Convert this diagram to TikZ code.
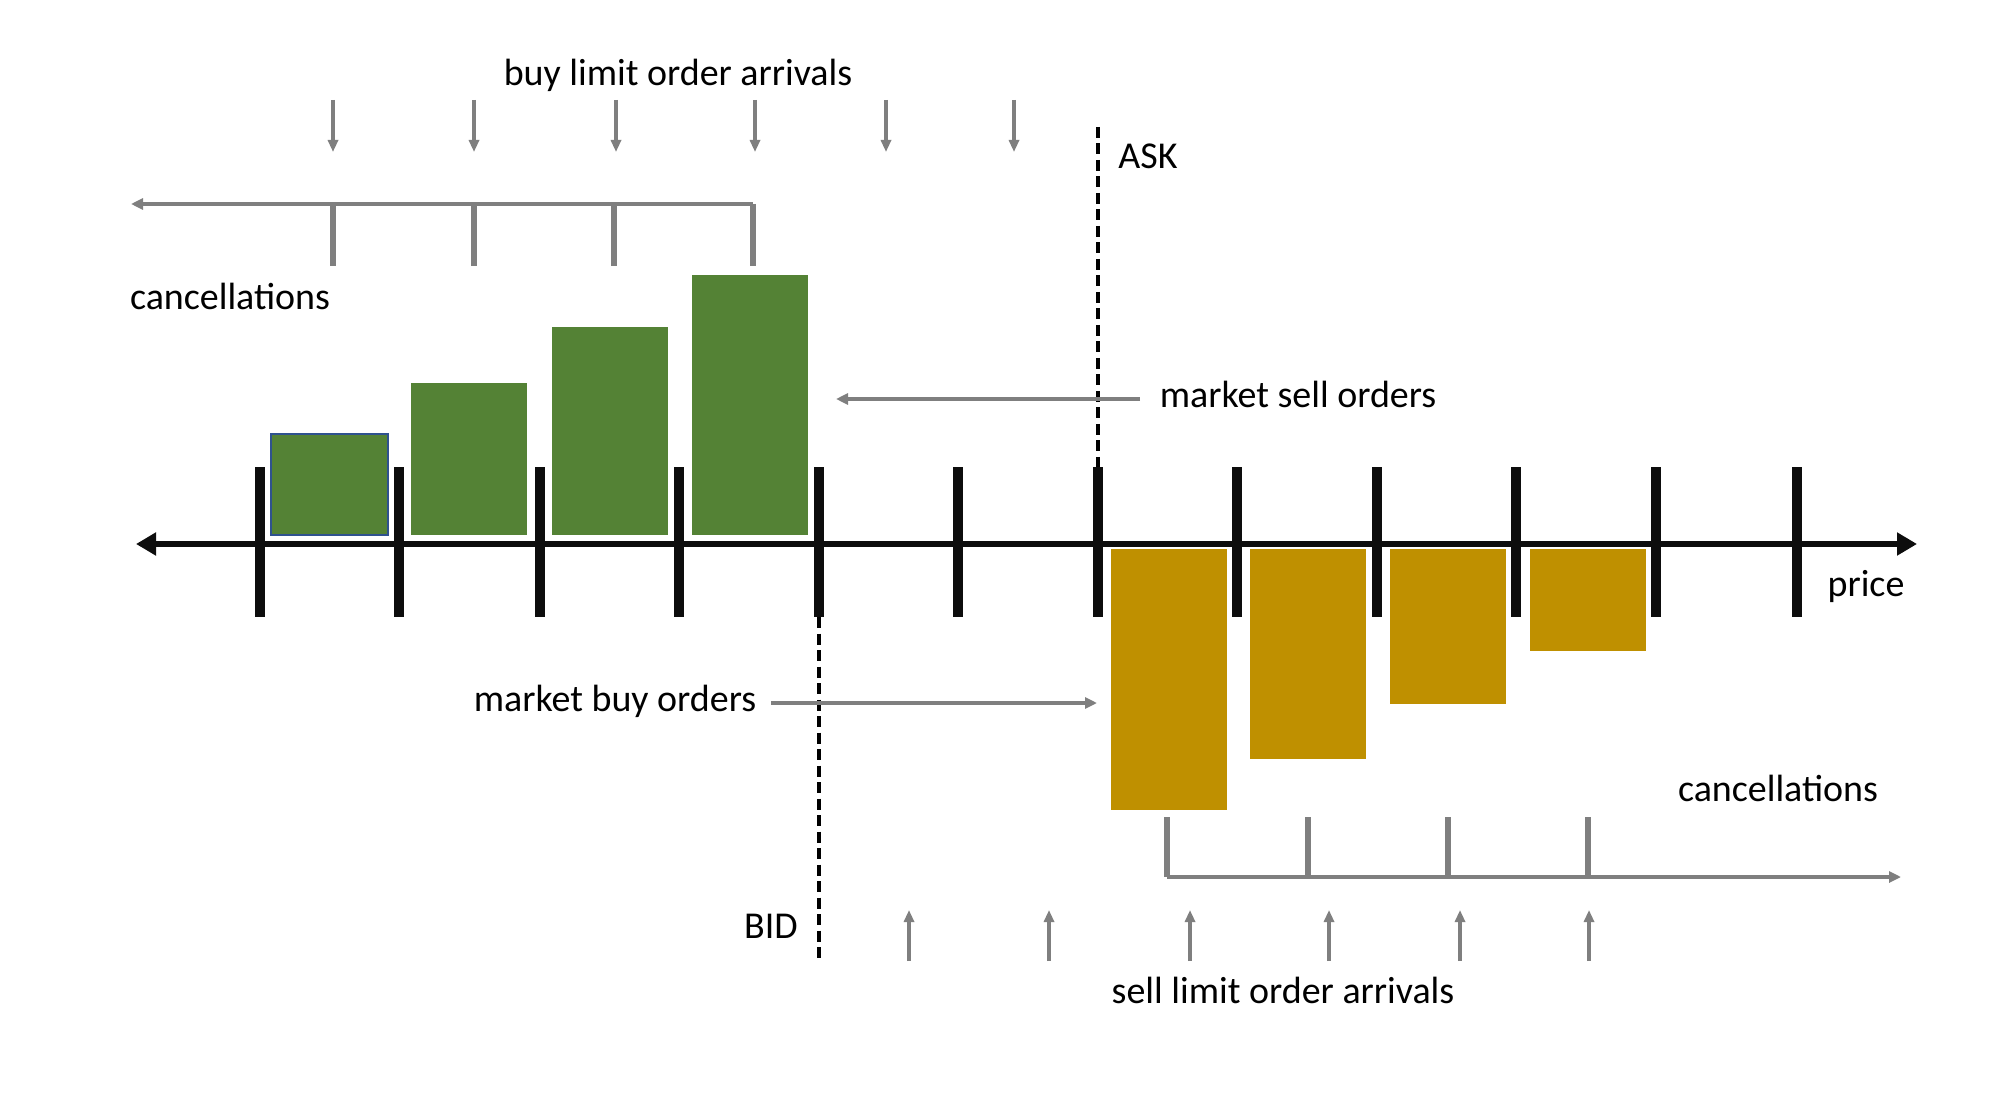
\documentclass[tikz,border=0pt]{standalone}
\usepackage{fontspec}
\setmainfont{Carlito}
\usetikzlibrary{arrows.meta}
\usepackage{xcolor}
\definecolor{buygreen}{HTML}{548235}
\definecolor{sellgold}{HTML}{BF9000}
\definecolor{flowgray}{HTML}{7F7F7F}
\definecolor{edgeblue}{HTML}{2F528F}

\begin{document}
\begin{tikzpicture}[x=0.1mm,y=-0.1mm,
	lbl/.style={anchor=base,inner sep=0pt,font=\fontsize{10.8}{13}\selectfont},
	axis/.style={line width=1.6pt,black!95,{Triangle[length=2mm,width=2.2mm]}-{Triangle[length=2mm,width=2.2mm]}},
	pricetick/.style={line width=2.9pt,black!95},
	order/.style={flowgray,line width=0.9pt,-{Triangle[length=1.2mm,width=1mm]}},
	cancel/.style={flowgray,line width=1.2pt,-{Triangle[length=1.2mm,width=1.1mm]}},
	canceltick/.style={flowgray,line width=1.8pt},
	market/.style={flowgray,line width=1.2pt,-{Triangle[length=1.2mm,width=1.1mm]}},
	quote/.style={black,line width=1.1pt,dash pattern=on 1.1mm off 0.55mm}]
	\useasboundingbox (0,0) rectangle (2002,1105);
	% price axis
	\coordinate (low) at (136,544);
	\coordinate (high) at (1917,544);
	\draw[axis] (low)--(high);
	\foreach \x in {260,399,540,679,819,958,1098,1237,1377,1516,1656,1797}
		\draw[pricetick] (\x,467)--(\x,617);
	% limit order book
	\foreach \x/\t in {469/383, 610/327, 750/275}
		\fill[buygreen] (\x-58,\t) rectangle (\x+58,535);
	\filldraw[fill=buygreen,draw=edgeblue,line width=0.7pt] (271,434) rectangle (388,535);
	\foreach \x/\b in {1169/810, 1308/759, 1448/704, 1588/651}
		\fill[sellgold] (\x-58,549) rectangle (\x+58,\b);
	% bid and ask
	\coordinate (ask-top) at (1098,127);
	\coordinate (ask-foot) at (1098,467);
	\draw[quote] (ask-top)--(ask-foot);
	\coordinate (bid-head) at (819,617);
	\coordinate (bid-bottom) at (819,961);
	\draw[quote] (bid-head)--(bid-bottom);
	% labels
	\node[lbl] (buyarr) at (678,86) {buy limit order arrivals};
	\node[lbl] (cancbuy) at (230,310) {cancellations};
	\node[lbl] (ask) at (1148,169) {ASK};
	\node[lbl] (msell) at (1298,408) {market sell orders};
	\node[lbl] (mbuy) at (615,711) {market buy orders};
	\node[lbl] (bid) at (771,938) {BID};
	\node[lbl] (price) at (1866,596) {price};
	\node[lbl] (cancsell) at (1778,801) {cancellations};
	\node[lbl] (sellarr) at (1283,1003) {sell limit order arrivals};
	% arrivals
	\foreach \x in {333,474,616,755,886,1014}
		\draw[order] (\x,100)--(\x,152);
	\foreach \x in {909,1049,1190,1329,1460,1589}
		\draw[order] (\x,961)--(\x,910);
	% cancellations
	\coordinate (cb-start) at (753,204);
	\coordinate (cb-end) at (131,204);
	\draw[cancel] (cb-start)--(cb-end);
	\foreach \x in {333,474,614,753}
		\draw[canceltick] (\x,204)--(\x,266);
	\coordinate (cs-start) at (1167,877);
	\coordinate (cs-end) at (1901,877);
	\draw[cancel] (cs-start)--(cs-end);
	\foreach \x in {1167,1308,1448,1588}
		\draw[canceltick] (\x,817)--(\x,877);
	% market orders
	\coordinate (ms-from) at (1140,399);
	\coordinate (ms-to) at (836,399);
	\draw[market] (ms-from)--(ms-to);
	\coordinate (mb-from) at (771,703);
	\coordinate (mb-to) at (1097,703);
	\draw[market] (mb-from)--(mb-to);
\end{tikzpicture}
\end{document}
